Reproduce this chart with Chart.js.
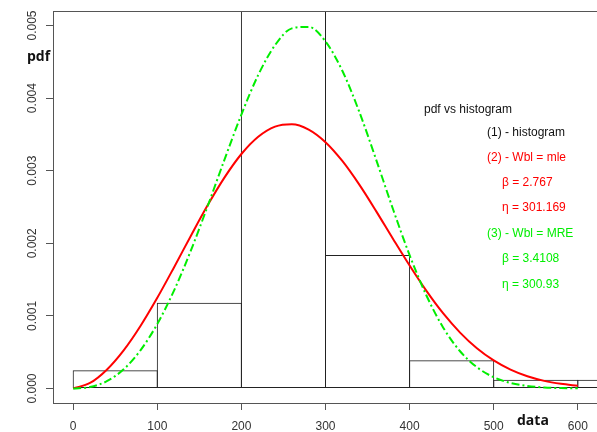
<!DOCTYPE html>
<html lang="en">
<head>
  <meta charset="UTF-8" />
  <meta name="viewport" content="width=device-width, initial-scale=1.0" />
  <title>pdf vs histogram</title>
  <script src="https://cdn.jsdelivr.net/npm/chart.js"></script>
  <style>
    html, body { margin: 0; padding: 0; background: #fff; overflow: hidden; }
    #wrap { position: relative; width: 600px; height: 432px; }
    .lbl { position: absolute; font: 12px "Liberation Sans", Arial, sans-serif; line-height: 14px; white-space: nowrap; }
    .ax { position: absolute; font: bold 14px "Open Sans", sans-serif; line-height: 16px; color: #111; }
  </style>
</head>
<body>
<div id="wrap">
  <canvas id="pdfChart"></canvas>

  <div class="ax" style="left:27px; top:48px;">pdf</div>
  <div class="ax" style="left:517px; top:412px;">data</div>

  <div class="lbl" style="left:424px; top:102px; color:#111;">pdf vs histogram</div>
  <div class="lbl" style="left:487px; top:125px; color:#111;">(1) - histogram</div>
  <div class="lbl" style="left:487px; top:150px; color:#ff0000;">(2) - Wbl = mle</div>
  <div class="lbl" style="left:502px; top:175px; color:#ff0000;">&beta; = 2.767</div>
  <div class="lbl" style="left:502px; top:200px; color:#ff0000;">&eta; = 301.169</div>
  <div class="lbl" style="left:487px; top:226px; color:#00ee00;">(3) - Wbl = MRE</div>
  <div class="lbl" style="left:502px; top:251px; color:#00ee00;">&beta; = 3.4108</div>
  <div class="lbl" style="left:502px; top:277px; color:#00ee00;">&eta; = 300.93</div>
</div>

<script>
  // histogram: bins of width 100, density per bin
  const binStart = [0, 100, 200, 300, 400, 500, 600];
  const binWidth = 100;
  const density = [0.00025, 0.00118, 0.0061, 0.00184, 0.00039, 0.00012, 0.00012];

  // fitted Weibull curves sampled along the data axis
  const xGrid = [0, 20, 40, 60, 80, 100, 120, 140, 160, 180, 200, 220, 240, 260, 280, 300,
                 320, 340, 360, 380, 400, 420, 440, 460, 480, 500, 520, 540, 560, 580, 600];
  const mlePdf = [0, 7.6e-5, 2.59e-4, 5.25e-4, 8.61e-4, 1.249e-3, 1.671e-3, 2.105e-3, 2.526e-3,
                  2.908e-3, 3.230e-3, 3.468e-3, 3.608e-3, 3.641e-3, 3.567e-3, 3.393e-3, 3.134e-3,
                  2.811e-3, 2.447e-3, 2.066e-3, 1.693e-3, 1.344e-3, 1.033e-3, 7.70e-4, 5.54e-4,
                  3.86e-4, 2.59e-4, 1.68e-4, 1.05e-4, 6.4e-5, 3.7e-5];
  const mrePdf = [0, 1.9e-5, 1.00e-4, 2.64e-4, 5.26e-4, 8.89e-4, 1.352e-3, 1.902e-3, 2.516e-3,
                  3.156e-3, 3.774e-3, 4.318e-3, 4.729e-3, 4.961e-3, 4.981e-3, 4.780e-3, 4.377e-3,
                  3.816e-3, 3.160e-3, 2.479e-3, 1.837e-3, 1.281e-3, 8.38e-4, 5.13e-4, 2.93e-4,
                  1.55e-4, 7.6e-5, 3.4e-5, 1.4e-5, 5e-6, 2e-6];

  const xTicks = [0, 100, 200, 300, 400, 500, 600];
  const xTickLabels = ['0', '100', '200', '300', '400', '500', '600'];
  const yTicks = [0, 0.001, 0.002, 0.003, 0.004, 0.005];
  const yTickLabels = ['0.000', '0.001', '0.002', '0.003', '0.004', '0.005'];

  // box around the plot region plus the upright y tick labels
  const rFrame = {
    id: 'rFrame',
    afterDraw(chart) {
      const { ctx, chartArea: a } = chart;
      const y = chart.scales.y;
      ctx.save();
      ctx.strokeStyle = '#555';
      ctx.lineWidth = 1;
      ctx.strokeRect(Math.round(a.left) + 0.5, Math.round(a.top) + 0.5,
                     Math.round(a.right - a.left), Math.round(a.bottom - a.top));
      ctx.fillStyle = '#333';
      ctx.font = '12px "Liberation Sans", Arial, sans-serif';
      ctx.textAlign = 'center';
      ctx.textBaseline = 'alphabetic';
      yTicks.forEach((v, i) => {
        ctx.save();
        ctx.translate(36, y.getPixelForValue(v));
        ctx.rotate(-Math.PI / 2);
        ctx.fillText(yTickLabels[i], 0, 0);
        ctx.restore();
      });
      ctx.restore();
    }
  };

  const ctx = document.getElementById('pdfChart').getContext('2d');
  new Chart(ctx, {
    type: 'bar',
    data: {
      datasets: [
        {
          type: 'bar',
          label: 'histogram',
          data: binStart.map((s, i) => ({ x: s + binWidth / 2, y: density[i] })),
          backgroundColor: 'rgba(0,0,0,0)',
          borderColor: '#222',
          borderWidth: 1,
          borderSkipped: false,
          // a hair wider than the bin so neighbouring edges overlap into one line
          barPercentage: 1.012,
          categoryPercentage: 1,
          grouped: false,
          order: 3
        },
        {
          type: 'line',
          label: 'Wbl = mle',
          data: xGrid.map((x, i) => ({ x: x, y: mlePdf[i] })),
          borderColor: '#ff0000',
          borderWidth: 2,
          pointRadius: 0,
          fill: false,
          cubicInterpolationMode: 'monotone',
          order: 2
        },
        {
          type: 'line',
          label: 'Wbl = MRE',
          data: xGrid.map((x, i) => ({ x: x, y: mrePdf[i] })),
          borderColor: '#00ee00',
          borderWidth: 2,
          borderDash: [8, 3, 2, 3],
          pointRadius: 0,
          fill: false,
          cubicInterpolationMode: 'monotone',
          order: 1
        }
      ]
    },
    options: {
      responsive: true,
      maintainAspectRatio: false,
      animation: false,
      events: [],
      layout: { padding: { top: 11, right: 2, left: 0, bottom: 0 } },
      plugins: {
        legend: { display: false },
        tooltip: { enabled: false }
      },
      scales: {
        x: {
          type: 'linear',
          min: -24,
          max: 624,
          offset: false,
          afterBuildTicks: s => { s.ticks = xTicks.map(v => ({ value: v })); },
          afterFit: s => { s.height = 29; },
          ticks: {
            color: '#333',
            padding: 9,
            maxRotation: 0,
            autoSkip: false,
            font: { family: '"Liberation Sans", Arial, sans-serif', size: 12 },
            callback: (v, i) => xTickLabels[i]
          },
          grid: { drawOnChartArea: false, offset: false, tickLength: 7, color: '#555' },
          border: { display: false }
        },
        y: {
          type: 'linear',
          min: -0.0002,
          max: 0.0052,
          afterBuildTicks: s => { s.ticks = yTicks.map(v => ({ value: v })); },
          afterFit: s => { s.width = 53; },
          ticks: { display: false },
          grid: { drawOnChartArea: false, offset: false, tickLength: 7, color: '#555' },
          border: { display: false }
        }
      }
    },
    plugins: [rFrame]
  });
</script>
</body>
</html>
